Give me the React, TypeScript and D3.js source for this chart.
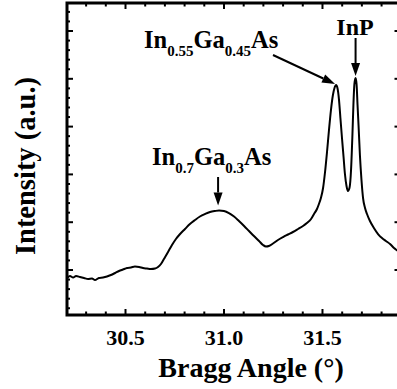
import React from "react";
import * as d3 from "d3";

// Diffraction scan: Bragg angle (deg) vs intensity (arbitrary units)
const angle: number[] = [
  30.203, 30.218, 30.234, 30.249, 30.269, 30.289, 30.31, 30.33, 30.345, 30.365,
  30.386, 30.406, 30.426, 30.447, 30.467, 30.487, 30.508, 30.528, 30.548, 30.569,
  30.589, 30.609, 30.629, 30.65, 30.665, 30.68, 30.695, 30.716, 30.736, 30.756,
  30.777, 30.802, 30.827, 30.853, 30.878, 30.904, 30.929, 30.954, 30.975, 31.0,
  31.025, 31.051, 31.076, 31.102, 31.127, 31.152, 31.178, 31.198, 31.213, 31.228,
  31.249, 31.274, 31.3, 31.325, 31.35, 31.376, 31.401, 31.421, 31.442, 31.457,
  31.472, 31.482, 31.492, 31.503, 31.513, 31.523, 31.533, 31.543, 31.553, 31.561,
  31.569, 31.576, 31.584, 31.591, 31.599, 31.607, 31.614, 31.622, 31.629, 31.637,
  31.645, 31.652, 31.657, 31.662, 31.668, 31.673, 31.678, 31.683, 31.69, 31.698,
  31.706, 31.716, 31.726, 31.741, 31.761, 31.782, 31.802, 31.822, 31.843, 31.863,
  31.883,
];
const intensity: number[] = [
  0.833, 0.874, 0.843, 0.874, 0.854, 0.833, 0.812, 0.822, 0.791, 0.833,
  0.843, 0.864, 0.895, 0.937, 0.979, 1.01, 1.042, 1.052, 1.073, 1.063,
  1.042, 1.031, 1.021, 1.031, 1.063, 1.126, 1.23, 1.377, 1.523, 1.649,
  1.753, 1.858, 1.962, 2.046, 2.119, 2.172, 2.213, 2.234, 2.245, 2.234,
  2.192, 2.119, 2.025, 1.921, 1.816, 1.711, 1.607, 1.523, 1.492, 1.502,
  1.554, 1.628, 1.69, 1.743, 1.795, 1.858, 1.921, 1.983, 2.067, 2.172,
  2.276, 2.381, 2.506, 2.715, 3.05, 3.469, 3.929, 4.347, 4.661, 4.808,
  4.87, 4.808, 4.556, 4.18, 3.762, 3.364, 3.008, 2.757, 2.653, 2.715,
  3.092, 3.824, 4.452, 4.891, 5.017, 4.891, 4.452, 4.033, 3.406, 2.883,
  2.506, 2.297, 2.172, 2.025, 1.879, 1.753, 1.669, 1.607, 1.544, 1.46,
  1.397,
];

const xTickValues = [30.5, 31.0, 31.5];
const xTickLabels = ["30.5", "31.0", "31.5"];
const yMajorTicks = [1, 2, 3, 4, 5, 6];

// Peak annotations: [main, subscript, main, subscript, main] segments
const labelInGaAs055 = ["In", "0.55", "Ga", "0.45", "As"];
const labelInGaAs07 = ["In", "0.7", "Ga", "0.3", "As"];
const labelInP = "InP";
const peakInGaAs055 = { angle: 31.569, intensity: 4.87 };
const peakInP = { angle: 31.668, intensity: 5.017 };
const peakInGaAs07 = { angle: 30.97, intensity: 2.245 };

const W = 397;
const H = 389;
const FONT = '"Liberation Serif", "Times New Roman", Times, "DejaVu Serif", serif';

const left = 67;
const right = 399.5;
const top = 3;
const bottom = 315;

function SubLabel({ parts, x, y, size, subSize, subDy }: any) {
  return (
    <text x={x} y={y} style={{ fontFamily: FONT }} fontWeight="bold" fontSize={size} fill="#000">
      {parts.map((p: string, i: number) =>
        i % 2 === 1 ? (
          <tspan key={i} fontSize={subSize} dy={subDy}>{p}</tspan>
        ) : (
          <tspan key={i} dy={i === 0 ? 0 : -subDy}>{p}</tspan>
        )
      )}
    </text>
  );
}

function Arrow({ x1, y1, x2, y2, head = 13, half = 4.5 }: any) {
  const ang = Math.atan2(y2 - y1, x2 - x1);
  const bx = x2 - head * Math.cos(ang);
  const by = y2 - head * Math.sin(ang);
  const px = -Math.sin(ang) * half;
  const py = Math.cos(ang) * half;
  return (
    <g>
      <line x1={x1} y1={y1} x2={bx} y2={by} stroke="#000" strokeWidth={2} />
      <path d={`M${x2},${y2}L${bx + px},${by + py}L${bx - px},${by - py}Z`} fill="#000" />
    </g>
  );
}

export default function App() {
  const x = d3.scaleLinear().domain([30.203, 31.891]).range([left, right]);
  const y = d3.scaleLinear().domain([0.0586, 6.586]).range([bottom, top]);

  const data = angle.map((a, i) => [a, intensity[i]] as [number, number]);
  const line = d3
    .line<[number, number]>()
    .x((d) => x(d[0]))
    .y((d) => y(d[1]))
    .curve(d3.curveMonotoneX);

  const xMinor = d3.range(30.3, 31.9, 0.1).filter((v) => !xTickValues.some((t) => Math.abs(t - v) < 1e-6));
  const yMinor = d3.range(0.2, 6.5, 0.2).filter((v) => Math.abs(v - Math.round(v)) > 1e-6);

  const textStyle = { fontFamily: FONT };

  return (
    <svg width={W} height={H} style={{ position: "absolute", left: 0, top: 0, background: "#fff" }}>
      <defs>
        <clipPath id="plotArea">
          <rect x={left} y={top} width={right - left} height={bottom - top} />
        </clipPath>
      </defs>
      <rect x={0} y={0} width={W} height={H} fill="#fff" />

      {/* ticks on all four sides, pointing inward */}
      <g stroke="#000" strokeWidth={2}>
        {xTickValues.map((v) => (
          <g key={"xm" + v}>
            <line x1={x(v)} x2={x(v)} y1={bottom} y2={bottom - 6} />
            <line x1={x(v)} x2={x(v)} y1={top} y2={top + 6} />
          </g>
        ))}
        {xMinor.map((v) => (
          <g key={"xn" + v}>
            <line x1={x(v)} x2={x(v)} y1={bottom} y2={bottom - 3.5} />
            <line x1={x(v)} x2={x(v)} y1={top} y2={top + 3.5} />
          </g>
        ))}
        {yMajorTicks.map((v) => (
          <g key={"ym" + v}>
            <line x1={left} x2={left + 6} y1={y(v)} y2={y(v)} />
            <line x1={right} x2={right - 5} y1={y(v)} y2={y(v)} />
          </g>
        ))}
        {yMinor.map((v) => (
          <line key={"yn" + v} x1={left} x2={left + 3} y1={y(v)} y2={y(v)} />
        ))}
      </g>

      {/* frame */}
      <rect x={left} y={top} width={right - left} height={bottom - top} fill="none" stroke="#000" strokeWidth={3} />

      {/* scan curve */}
      <path d={line(data) || ""} fill="none" stroke="#000" strokeWidth={2} clipPath="url(#plotArea)" strokeLinejoin="round" />

      {/* x tick labels */}
      {xTickValues.map((v, i) => (
        <text key={"xl" + v} x={x(v)} y={345} textAnchor="middle" style={textStyle} fontWeight="bold" fontSize={22} fill="#000">
          {xTickLabels[i]}
        </text>
      ))}

      {/* axis titles */}
      <text x={251} y={377} textAnchor="middle" style={textStyle} fontWeight="bold" fontSize={28} fill="#000">
        Bragg Angle (°)
      </text>
      <text transform="translate(35,166) rotate(-90)" textAnchor="middle" style={textStyle} fontWeight="bold" fontSize={28.5} fill="#000">
        Intensity (a.u.)
      </text>

      {/* peak labels and arrows */}
      <SubLabel parts={labelInGaAs055} x={144} y={48} size={24.5} subSize={15} subDy={8} />
      <Arrow x1={273} y1={55} x2={x(peakInGaAs055.angle) - 1} y2={y(peakInGaAs055.intensity) - 1} />

      <text x={355} y={35} textAnchor="middle" style={textStyle} fontWeight="bold" fontSize={24} fill="#000">
        {labelInP}
      </text>
      <Arrow x1={x(peakInP.angle)} y1={38} x2={x(peakInP.angle)} y2={y(peakInP.intensity) - 2} />

      <SubLabel parts={labelInGaAs07} x={152} y={165} size={24.5} subSize={15} subDy={8} />
      <Arrow x1={x(peakInGaAs07.angle)} y1={177} x2={x(peakInGaAs07.angle)} y2={y(peakInGaAs07.intensity) - 5} />
    </svg>
  );
}
